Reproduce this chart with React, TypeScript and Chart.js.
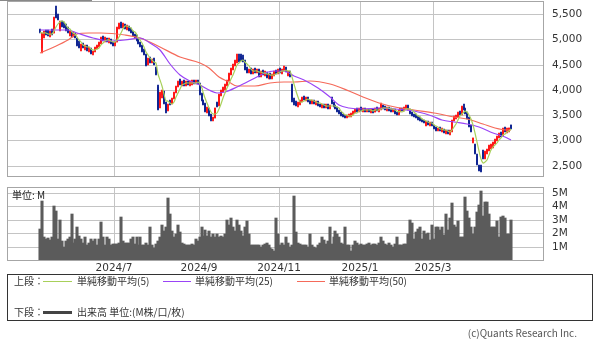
import React, { useEffect, useRef } from 'react';
import { Chart, registerables } from 'chart.js';

Chart.register(...registerables);

// [open, high, low, close] per trading day (2024/5/8 .. 2025/4)
const ohlc: number[][] = [
  [5180,5200,5120,5140],[4830,5130,4730,5110],[5060,5160,5020,5130],[5150,5190,5080,5100],[5120,5180,5060,5080],
  [5100,5170,5040,5140],[5160,5200,5090,5110],[5130,5440,5120,5420],[5540,5660,5420,5450],[5440,5500,5380,5400],
  [5200,5360,5160,5330],[5330,5370,5240,5260],[5270,5340,5220,5250],[5250,5300,5160,5180],[5180,5240,5120,5150],
  [5100,5160,5060,5140],[5120,5150,5040,5060],[5060,5140,5040,5110],[5100,5130,5020,5040],[5000,5020,4860,4880],
  [4900,4960,4820,4850],[4850,4900,4780,4880],[4880,4920,4820,4840],[4840,4880,4790,4860],[4860,4880,4780,4800],
  [4800,4840,4760,4820],[4810,4830,4720,4740],[4740,4780,4690,4760],[4780,4840,4760,4830],[4830,4880,4800,4860],
  [4860,4950,4840,4930],[4930,5040,4910,5020],[5020,5060,4960,4980],[4980,5040,4950,5010],[5010,5030,4940,4960],
  [4960,5020,4930,5000],[4980,5000,4900,4920],[4920,4950,4870,4890],[4900,4950,4860,4930],[4950,5250,4940,5230],
  [5230,5330,5200,5300],[5300,5340,5230,5260],[5260,5320,5220,5290],[5290,5310,5200,5220],[5220,5280,5180,5250],
  [5250,5270,5170,5190],[5190,5220,5120,5140],[5140,5170,5060,5080],[5080,5100,5020,5050],[5050,5080,4960,4990],
  [4990,5010,4900,4920],[4920,4940,4850,4870],[4870,4880,4760,4780],[4780,4800,4690,4710],[4700,4720,4480,4500],
  [4520,4640,4500,4620],[4620,4650,4540,4560],[4560,4620,4530,4600],[4600,4630,4500,4520],[4440,4460,4300,4320],
  [4060,4100,3600,3620],[3700,3960,3650,3940],[3900,4000,3840,3980],[3950,3980,3720,3740],[3720,3760,3540,3580],
  [3600,3720,3580,3700],[3760,3800,3700,3740],[3740,3840,3720,3820],[3840,3960,3820,3940],[3960,4080,3940,4060],
  [4080,4180,4060,4160],[4180,4210,4100,4120],[4120,4180,4080,4160],[4160,4190,4080,4100],[4100,4170,4070,4150],
  [4150,4180,4090,4110],[4110,4170,4080,4140],[4140,4200,4100,4180],[4180,4200,4110,4130],[4130,4190,4110,4170],
  [4170,4200,4110,4140],[4120,4130,3900,3920],[3920,3940,3780,3800],[3800,3810,3700,3720],[3720,3740,3560,3580],
  [3560,3660,3540,3640],[3620,3640,3480,3500],[3500,3520,3380,3420],[3430,3460,3380,3440],[3450,3650,3440,3640],
  [3740,3770,3660,3680],[3700,3920,3690,3900],[3900,4000,3880,3980],[3980,4050,3960,4040],[4040,4120,4000,4100],
  [4100,4200,4080,4180],[4200,4340,4180,4320],[4320,4440,4300,4420],[4420,4520,4400,4500],[4500,4600,4480,4580],
  [4580,4720,4540,4600],[4620,4720,4560,4600],[4680,4720,4580,4610],[4640,4700,4560,4580],[4580,4600,4400,4420],
  [4420,4460,4340,4360],[4360,4420,4340,4400],[4400,4440,4320,4340],[4340,4420,4320,4400],[4400,4440,4340,4360],
  [4360,4420,4340,4400],[4400,4420,4260,4280],[4280,4380,4260,4360],[4360,4400,4300,4320],[4320,4380,4280,4340],
  [4340,4360,4240,4260],[4260,4320,4220,4300],[4300,4330,4220,4240],[4240,4320,4220,4300],[4300,4380,4280,4360],
  [4360,4400,4320,4340],[4340,4420,4320,4400],[4400,4440,4340,4360],[4360,4420,4320,4390],[4400,4480,4380,4420],
  [4420,4460,4360,4380],[4300,4380,4280,4360],[4360,4380,4260,4280],[4100,4120,3760,3800],[3800,3840,3700,3740],
  [3740,3780,3680,3700],[3700,3760,3660,3740],[3740,3800,3710,3780],[3780,3860,3760,3840],[3840,3880,3800,3820],
  [3820,3860,3780,3840],[3840,3850,3760,3780],[3780,3800,3720,3740],[3740,3800,3720,3780],[3780,3800,3720,3740],
  [3740,3780,3700,3760],[3760,3780,3680,3700],[3700,3720,3660,3680],[3680,3720,3640,3700],[3700,3720,3640,3660],
  [3660,3720,3640,3700],[3700,3720,3620,3640],[3640,3700,3620,3680],[3800,3860,3720,3740],[3740,3760,3660,3680],
  [3680,3700,3620,3640],[3640,3660,3560,3580],[3580,3600,3520,3540],[3540,3560,3480,3500],[3500,3520,3460,3480],
  [3480,3500,3440,3460],[3460,3500,3440,3490],[3480,3520,3460,3500],[3500,3540,3470,3520],[3520,3580,3500,3560],
  [3560,3620,3540,3600],[3600,3640,3560,3580],[3580,3640,3560,3620],[3620,3660,3580,3600],[3600,3640,3570,3620],
  [3620,3640,3570,3590],[3590,3630,3570,3610],[3610,3630,3560,3580],[3580,3620,3550,3600],[3600,3620,3550,3570],
  [3570,3640,3560,3620],[3620,3660,3580,3600],[3600,3640,3560,3630],[3620,3740,3610,3700],[3680,3700,3620,3640],
  [3640,3680,3600,3620],[3620,3660,3580,3640],[3640,3660,3590,3610],[3610,3640,3570,3590],[3590,3630,3560,3610],
  [3610,3620,3520,3540],[3540,3560,3500,3520],[3520,3600,3510,3580],[3580,3640,3560,3620],[3620,3640,3580,3600],
  [3600,3660,3580,3640],[3640,3700,3620,3680],[3680,3700,3600,3620],[3600,3620,3520,3540],[3540,3560,3490,3510],
  [3510,3530,3460,3480],[3480,3520,3440,3460],[3460,3480,3410,3440],[3440,3460,3380,3400],[3400,3420,3360,3380],
  [3380,3400,3340,3360],[3300,3380,3280,3360],[3360,3390,3300,3320],[3320,3360,3290,3340],[3340,3360,3280,3300],
  [3280,3300,3220,3240],[3240,3260,3180,3200],[3200,3250,3180,3230],[3230,3260,3180,3200],[3200,3240,3170,3220],
  [3200,3220,3140,3160],[3160,3200,3120,3180],[3180,3200,3120,3140],[3140,3200,3110,3180],[3180,3400,3170,3380],
  [3400,3480,3380,3460],[3460,3500,3430,3480],[3480,3560,3460,3540],[3540,3580,3500,3520],[3520,3680,3510,3660],
  [3660,3720,3600,3620],[3620,3640,3520,3540],[3540,3560,3430,3460],[3440,3460,3260,3280],[3280,3300,3160,3180],
  [2980,3050,2940,3040],[2900,2920,2740,2760],[2700,2740,2520,2540],[2500,2520,2400,2420],[2480,2520,2370,2400],
  [2780,2820,2640,2680],[2660,2800,2640,2780],[2780,2840,2740,2820],[2820,2900,2800,2880],[2880,2920,2840,2900],
  [2900,2960,2860,2940],[2940,3020,2920,3000],[3000,3080,2980,3060],[3060,3140,3040,3120],[3120,3160,3060,3090],
  [3100,3240,3080,3220],[3220,3260,3160,3180],[3180,3240,3150,3210],[3180,3250,3170,3240],[3300,3310,3220,3240],
];

// volume in millions per trading day
const volumeM: number[] = [
  2.3,4.4,1.7,1.6,1.65,1.5,1.7,4.0,3.65,1.6,
  2.95,1.45,0.95,1.45,1.6,1.7,3.4,1.3,1.6,2.45,
  1.8,1.6,1.3,1.7,1.1,1.3,1.6,1.45,1.6,1.1,
  1.6,2.8,1.7,1.1,1.7,1.6,1.1,1.2,1.2,1.2,1.3,
  3.2,1.45,1.3,1.3,1.3,1.6,1.7,1.2,1.75,1.1,
  1.75,1.1,1.1,1.3,1.15,2.5,1.1,0.9,1.2,1.4,
  1.7,2.6,2.2,2.45,4.65,3.4,2.2,1.7,1.95,2.6,
  2.1,1.3,1.2,1.1,1.15,1.1,1.2,1.1,1.6,1.45,
  1.7,2.5,1.8,2.25,1.8,2.2,1.7,1.95,1.75,1.95,
  1.7,1.8,1.75,1.95,3.0,2.65,3.15,2.45,2.2,3.0,2.6,
  2.2,1.8,2.45,2.9,1.95,1.15,1.1,1.1,1.1,1.1,
  0.95,1.1,1.2,1.3,1.1,0.9,0.8,0.7,3.1,1.95,
  1.1,1.25,1.1,1.7,1.25,0.95,1.1,4.8,2.1,1.3,
  1.2,1.1,1.1,1.1,1.0,1.95,1.1,1.0,0.9,1.1,
  1.3,1.7,1.5,1.2,1.45,2.5,1.2,1.7,2.2,1.95,
  1.75,1.3,1.2,2.5,1.1,1.1,0.7,1.1,1.45,1.25,
  1.1,1.2,1.1,1.15,1.2,1.25,1.1,1.2,1.2,1.1,
  1.3,1.75,1.45,1.2,1.1,1.3,1.1,0.95,1.2,1.7,
  1.1,1.15,1.15,1.2,1.2,1.95,3.0,2.75,1.6,2.1,2.3,
  2.5,1.6,2.2,1.95,2.0,1.5,2.6,1.6,2.45,2.45,
  2.25,2.5,1.9,3.45,2.25,3.1,4.25,2.6,2.45,2.9,
  1.7,1.7,1.7,4.7,3.65,3.15,2.45,1.95,2.45,3.6,
  4.1,5.15,3.3,4.3,4.3,3.4,2.45,2.45,2.45,2.9,
  1.75,3.2,3.25,3.1,1.95,1.95,3.0,
];

// [trading-day number, value]
const ma25Points: number[][] = [
  [0,5184],[8,5190],[14,5180],[19,5125],[27,5030],[35,4960],[43,4990],[51,5026],[56,4920],[61,4790],
  [66,4520],[71,4300],[76,4170],[81,4100],[86,3990],[90,3940],[94,3950],[100,4060],[109,4230],[114,4330],
  [119,4365],[124,4365],[129,4270],[134,4190],[141,4030],[147,3850],[152,3710],[157,3645],[164,3630],[172,3635],
  [180,3630],[186,3610],[190,3590],[199,3480],[204,3410],[210,3360],[217,3330],[223,3270],[230,3150],[236,3070],[239,3015],
];
const ma50Points: number[][] = [
  [0,4730],[7,4850],[14,4990],[19,5100],[25,5125],[31,5120],[43,5090],[51,5030],[61,4850],[71,4650],
  [81,4530],[86,4430],[91,4250],[96,4150],[100,4080],[109,4070],[117,4130],[124,4155],[129,4165],[137,4175],
  [147,4110],[157,3980],[164,3860],[172,3745],[180,3660],[190,3600],[200,3545],[210,3470],[217,3430],[225,3330],
  [231,3250],[237,3200],[239,3215],
];

const monthGridIndex = [37.5, 80.5, 121.5, 162.5, 199.5];
const monthLabels = ['2024/7', '2024/9', '2024/11', '2025/1', '2025/3'];
const priceTicks = [2500, 3000, 3500, 4000, 4500, 5000, 5500];
const volumeTicks = [1, 2, 3, 4, 5];

const X_MIN = -16.75;
const X_MAX = 255.85;
const UP = '#ff1414';
const DOWN = '#0d2391';
const GRID = '#c4c4c4';
const FRAME = '#a6a6a6';
const MA5_C = '#a8d05a';
const MA25_C = '#9a44f6';
const MA50_C = '#f56a5a';
const TICK_FONT = { family: 'DejaVu Sans', size: 10.5 };
const CJK = "'Noto Sans CJK JP', sans-serif";

const framePlugin = {
  id: 'frame',
  afterDraw(chart: any) {
    const { ctx, chartArea: a } = chart;
    const l = Math.round(a.left), t = Math.round(a.top), r = Math.round(a.right), b = Math.round(a.bottom);
    ctx.save();
    ctx.strokeStyle = FRAME;
    ctx.lineWidth = 1;
    ctx.strokeRect(l + 0.5, t + 0.5, r - l - 1, b - t);
    ctx.restore();
  },
};

function zeroPad(s: any) {
  s.paddingTop = 0;
  s.paddingBottom = 0;
  s.paddingLeft = 0;
  s.paddingRight = 0;
}

function xScale(showLabels: boolean): any {
  return {
    type: 'linear',
    min: X_MIN,
    max: X_MAX,
    offset: false,
    alignToPixels: true,
    afterBuildTicks: (s: any) => { s.ticks = monthGridIndex.map((v) => ({ value: v })); },
    afterFit: (s: any) => { s.height = showLabels ? 16 : 0; zeroPad(s); },
    grid: { color: GRID, lineWidth: 1, drawTicks: false, offset: false },
    border: { display: false },
    ticks: {
      display: showLabels, autoSkip: false, maxRotation: 0, minRotation: 0, padding: 2,
      font: TICK_FONT, color: '#333',
      callback: (_v: any, i: number) => monthLabels[i],
    },
  };
}

function yScale(min: number, max: number, ticks: number[], fmt: (v: number) => string): any {
  return {
    position: 'right',
    min, max,
    alignToPixels: true,
    afterBuildTicks: (s: any) => { s.ticks = ticks.map((v) => ({ value: v })); },
    afterFit: (s: any) => { s.width = 56; zeroPad(s); },
    grid: { color: GRID, lineWidth: 1, drawTicks: false },
    border: { display: false },
    ticks: { padding: 8, autoSkip: false, font: TICK_FONT, color: '#333', callback: (v: any) => fmt(Number(v)) },
  };
}

export default function App() {
  const priceRef = useRef<HTMLCanvasElement>(null);
  const volRef = useRef<HTMLCanvasElement>(null);

  useEffect(() => {
    const closes = ohlc.map((d) => d[3]);
    const ma5 = closes.map((_, i) => {
      const w = closes.slice(Math.max(0, i - 4), i + 1);
      return { x: i, y: w.reduce((a, b) => a + b, 0) / w.length };
    });
    const colors = ohlc.map((d) => (d[3] >= d[0] ? UP : DOWN));

    const common: any = {
      responsive: false,
      animation: false,
      events: [],
      plugins: { legend: { display: false }, tooltip: { enabled: false } },
    };

    const priceChart = new Chart(priceRef.current as HTMLCanvasElement, {
      type: 'bar',
      data: {
        datasets: [
          {
            type: 'line', data: ma5, borderColor: MA5_C, borderWidth: 1.2, pointRadius: 0,
            tension: 0.3, order: 0,
          } as any,
          {
            type: 'line', data: ma25Points.map((p) => ({ x: p[0], y: p[1] })), borderColor: MA25_C,
            borderWidth: 1.2, pointRadius: 0, cubicInterpolationMode: 'monotone', order: 0,
          } as any,
          {
            type: 'line', data: ma50Points.map((p) => ({ x: p[0], y: p[1] })), borderColor: MA50_C,
            borderWidth: 1.2, pointRadius: 0, cubicInterpolationMode: 'monotone', order: 1,
          } as any,
          {
            type: 'bar', data: ohlc.map((d, i) => ({ x: i, y: [d[0], d[3]] })), backgroundColor: colors,
            borderWidth: 0, grouped: false, barPercentage: 1, categoryPercentage: 1, minBarLength: 1, order: 2,
          } as any,
          {
            type: 'bar', data: ohlc.map((d, i) => ({ x: i, y: [d[2], d[1]] })), backgroundColor: colors,
            borderWidth: 0, grouped: false, barThickness: 1.2, order: 3,
          } as any,
        ],
      },
      options: {
        ...common,
        layout: { padding: { left: 7, top: 1, right: 0, bottom: 4 }, autoPadding: false },
        scales: {
          x: xScale(false),
          y: yScale(2296, 5760, priceTicks, (v) => v.toLocaleString('en-US')),
        },
      } as any,
      plugins: [framePlugin],
    });

    const volChart = new Chart(volRef.current as HTMLCanvasElement, {
      type: 'bar',
      data: {
        datasets: [
          {
            data: volumeM.map((v, i) => ({ x: i, y: v })), backgroundColor: '#5b5b5b', borderWidth: 0,
            grouped: false, barThickness: 2.4,
          } as any,
        ],
      },
      options: {
        ...common,
        layout: { padding: { left: 7, top: 3, right: 0, bottom: 0 }, autoPadding: false },
        scales: {
          x: xScale(true),
          y: yScale(0, 5.45, volumeTicks, (v) => v + 'M'),
        },
      } as any,
      plugins: [framePlugin],
    });

    return () => {
      priceChart.destroy();
      volChart.destroy();
    };
  }, []);

  const txt = (left: number, top: number, s: string, extra: any = {}) => (
    <div style={{ position: 'absolute', left, top, fontSize: 10, lineHeight: '12px', fontFamily: CJK, color: '#333', whiteSpace: 'nowrap', ...extra }}>{s}</div>
  );
  const line = (left: number, top: number, width: number, height: number, color: string) => (
    <div style={{ position: 'absolute', left, top, width, height, background: color }} />
  );

  return (
    <div style={{ position: 'absolute', left: 0, top: 0, width: 600, height: 342, background: '#fff', overflow: 'hidden' }}>
      <canvas ref={priceRef} width={600} height={180} style={{ position: 'absolute', left: 0, top: 0, display: 'block' }} />
      <canvas ref={volRef} width={600} height={92} style={{ position: 'absolute', left: 0, top: 184, display: 'block' }} />
      {line(0, 0, 92, 1, '#888')}
      {txt(12, 188.5, '単位: M', { color: '#222' })}
      <div style={{ position: 'absolute', left: 7, top: 274, width: 586, height: 47, border: '1px solid #333', boxSizing: 'border-box' }} />
      {txt(14, 275, '上段：')}
      {line(43, 281, 29, 1, MA5_C)}
      {txt(77, 275, '単純移動平均(5)')}
      {line(163, 281, 28, 1, MA25_C)}
      {txt(195, 275, '単純移動平均(25)')}
      {line(297, 281, 28, 1, MA50_C)}
      {txt(329, 275, '単純移動平均(50)')}
      {txt(14, 306, '下段：')}
      {line(43, 311, 29, 3, '#444')}
      {txt(77, 306, '出来高 単位:(M株/口/枚)')}
      <div style={{ position: 'absolute', right: 23, top: 326.5, fontSize: 10, lineHeight: '12px', fontFamily: CJK, color: '#555', whiteSpace: 'nowrap' }}>(c)Quants Research Inc.</div>
    </div>
  );
}
